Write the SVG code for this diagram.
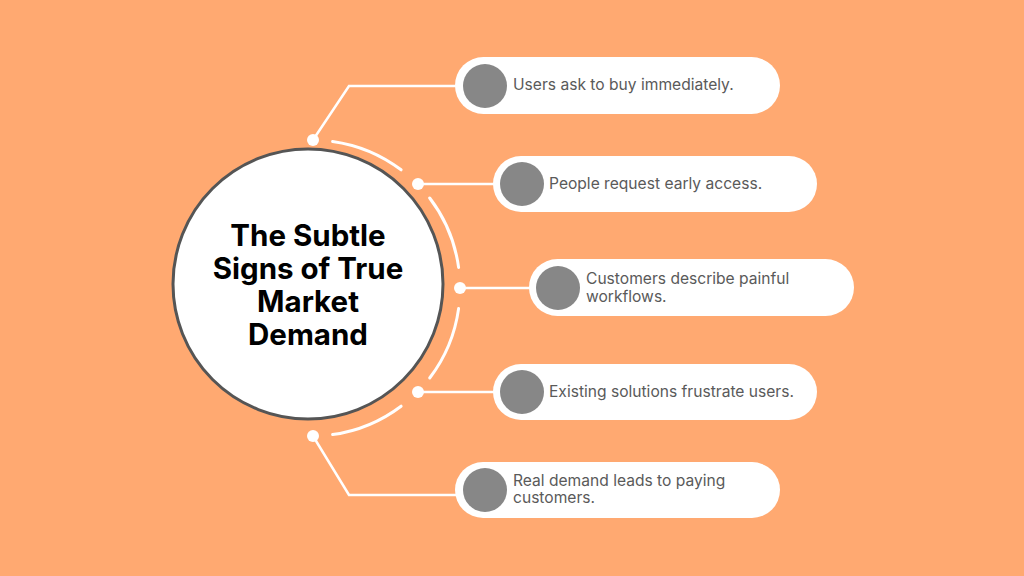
<svg xmlns="http://www.w3.org/2000/svg" width="1024" height="576" viewBox="0 0 1024 576">
<style>
.ln{fill:none;stroke:#fff;stroke-width:2.5}
.arc{fill:none;stroke:#fff;stroke-width:3;stroke-linecap:round}
.dot{fill:#fff}
.pill{fill:#fff}
.ic{fill:#878787}
.t{font-family:Inter,"Open Sans","Liberation Sans",sans-serif;font-size:15.6px;fill:#5a5a5a}
.title{font-family:Inter,"Open Sans","Liberation Sans",sans-serif;font-size:29.5px;font-weight:700;fill:#000;text-anchor:middle}
</style>
<rect width="1024" height="576" fill="#FFA971"/>
<g id="connectors">
<path class="arc" d="M332.6,141.4 A148,148 0 0 1 401.1,169.8"/>
<path class="arc" d="M429.7,198.0 A148,148 0 0 1 458.6,267.4"/>
<path class="arc" d="M458.6,308.6 A148,148 0 0 1 429.7,378.0"/>
<path class="arc" d="M401.1,406.2 A148,148 0 0 1 332.6,434.6"/>
<polyline class="ln" points="313,140 349,86 460,86"/>
<polyline class="ln" points="418,184 498,184"/>
<polyline class="ln" points="460,288 534,288"/>
<polyline class="ln" points="418,392 498,392"/>
<polyline class="ln" points="313,436 349,495 460,495"/>
<circle class="dot" cx="313" cy="140" r="6"/>
<circle class="dot" cx="418" cy="184" r="6"/>
<circle class="dot" cx="460" cy="288" r="6"/>
<circle class="dot" cx="418" cy="392" r="6"/>
<circle class="dot" cx="313" cy="436" r="6"/>
</g>
<g id="center">
<circle cx="308" cy="284" r="135" fill="#fff" stroke="#555" stroke-width="3"/>
<text class="title" x="308" y="246"><tspan x="308">The Subtle</tspan><tspan x="308" dy="33">Signs of True</tspan><tspan x="308" dy="33">Market</tspan><tspan x="308" dy="33">Demand</tspan></text>
</g>
<g id="n1">
<rect class="pill" x="455" y="57" width="325" height="57" rx="28.5"/>
<circle class="ic" cx="485" cy="86" r="22"/>
<text class="t" x="513" y="90">Users ask to buy immediately.</text>
</g>
<g id="n2">
<rect class="pill" x="493" y="156" width="324" height="56" rx="28"/>
<circle class="ic" cx="522" cy="184" r="22"/>
<text class="t" x="549" y="189">People request early access.</text>
</g>
<g id="n3">
<rect class="pill" x="529" y="259" width="325" height="57" rx="28.5"/>
<circle class="ic" cx="558" cy="288" r="22"/>
<text class="t" x="586" y="284"><tspan x="586">Customers describe painful</tspan><tspan x="586" dy="18">workflows.</tspan></text>
</g>
<g id="n4">
<rect class="pill" x="493" y="364" width="324" height="56" rx="28"/>
<circle class="ic" cx="522" cy="392" r="22"/>
<text class="t" x="549" y="397">Existing solutions frustrate users.</text>
</g>
<g id="n5">
<rect class="pill" x="455" y="462" width="325" height="56" rx="28"/>
<circle class="ic" cx="485" cy="490" r="22"/>
<text class="t" x="513" y="486"><tspan x="513">Real demand leads to paying</tspan><tspan x="513" dy="17">customers.</tspan></text>
</g>
</svg>
